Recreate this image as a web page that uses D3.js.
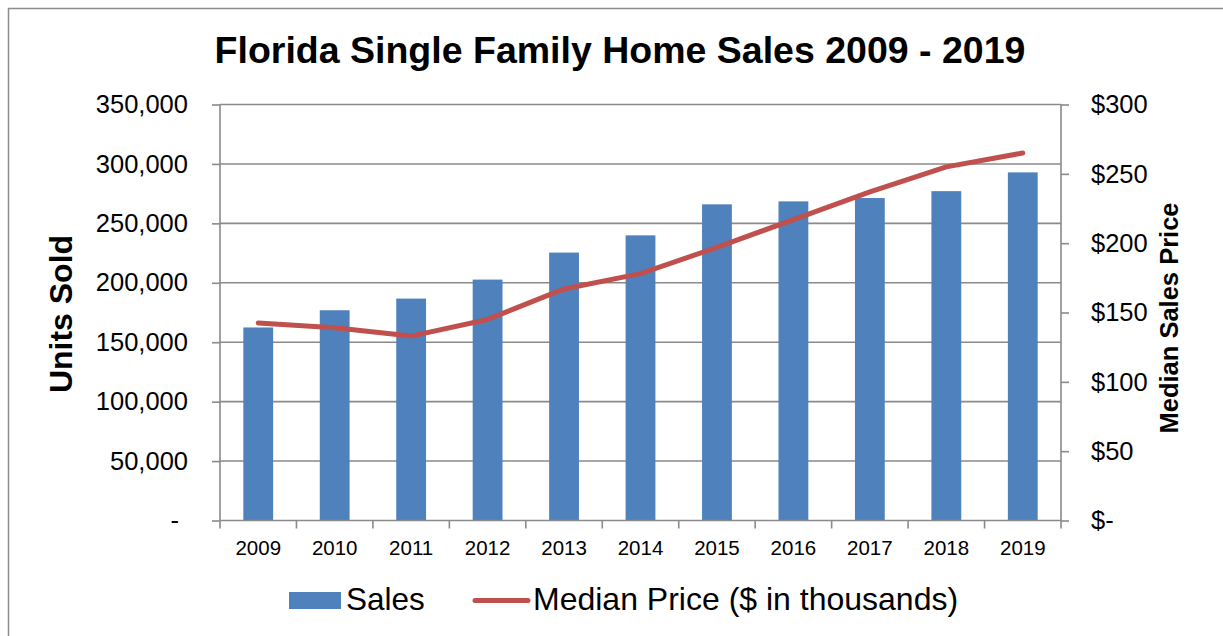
<!DOCTYPE html>
<html lang="en">
<meta charset="utf-8">
<title>Florida Single Family Home Sales</title>
<script src="https://d3js.org/d3.v7.min.js"></script>
<style>
  body { margin: 0; background: #fff; }
  svg { font-family: "Liberation Sans", Arial, sans-serif; }
</style>
<svg width="1223" height="636"></svg>
<script>
// data
var years = ["2009", "2010", "2011", "2012", "2013", "2014", "2015", "2016", "2017", "2018", "2019"];
var sales = [162400, 176900, 186700, 202700, 225400, 239900, 266000, 268500, 271300, 277100, 292900];
var medianPrice = [142.5, 139, 133, 145, 167, 178, 197, 217, 237, 255, 265];
var leftTicks = [0, 50000, 100000, 150000, 200000, 250000, 300000, 350000];
var rightTicks = [0, 50, 100, 150, 200, 250, 300];

var svg = d3.select("svg");
var margin = {top: 104.5, left: 220, right: 162, bottom: 115.5};
var width = 1223 - margin.left - margin.right;
var height = 636 - margin.top - margin.bottom;

// frame
svg.append("rect")
  .attr("x", 8.5).attr("y", 8.5)
  .attr("width", 1400).attr("height", 800)
  .attr("fill", "none").attr("stroke", "#8c8c8c").attr("stroke-width", 1.5);

var g = svg.append("g").attr("transform", "translate(" + margin.left + "," + margin.top + ")");

var x = d3.scaleBand().domain(years).range([0, width]).paddingInner(0.61).paddingOuter(0.305);
var xb = d3.scaleBand().domain(years).range([0, width]);
var y = d3.scaleLinear().domain([0, 350000]).range([height, 0]);
var y2 = d3.scaleLinear().domain([0, 300]).range([height, 0]);

// gridlines
g.append("g").selectAll("line")
  .data(leftTicks.slice(1))
  .enter().append("line")
    .attr("x1", 0).attr("x2", width)
    .attr("y1", function(d) { return y(d); })
    .attr("y2", function(d) { return y(d); })
    .attr("stroke", "#8a8a8a").attr("stroke-width", 1.6);

// bars
g.append("g").selectAll("rect")
  .data(years)
  .enter().append("rect")
    .attr("x", function(d) { return x(d); })
    .attr("y", function(d, i) { return y(sales[i]); })
    .attr("width", x.bandwidth())
    .attr("height", function(d, i) { return height - y(sales[i]); })
    .attr("fill", "#4f81bd");

// left axis
var leftAxis = g.append("g")
  .call(d3.axisLeft(y).tickValues(leftTicks).tickSize(8).tickPadding(24)
    .tickFormat(function(d) { return d === 0 ? "-" : d3.format(",")(d); }));
leftAxis.selectAll("path, line").attr("stroke", "#8a8a8a").attr("stroke-width", 1.6);
leftAxis.select(".domain").attr("d", "M0," + height + "V0");
leftAxis.selectAll("text").attr("font-size", 25.5).attr("fill", "#000")
  .attr("font-family", "Liberation Sans, Arial, sans-serif")
  .attr("dx", function(d) { return d === 0 ? -9 : 0; });

// right axis
var rightAxis = g.append("g")
  .attr("transform", "translate(" + width + ",0)")
  .call(d3.axisRight(y2).tickValues(rightTicks).tickSize(8).tickPadding(22)
    .tickFormat(function(d) { return d === 0 ? "$-" : "$" + d; }));
rightAxis.selectAll("path, line").attr("stroke", "#8a8a8a").attr("stroke-width", 1.6);
rightAxis.select(".domain").attr("d", "M0," + height + "V0");
rightAxis.selectAll("text").attr("font-size", 25.5).attr("fill", "#000")
  .attr("font-family", "Liberation Sans, Arial, sans-serif");

// bottom axis
var bottomAxis = g.append("g")
  .attr("transform", "translate(0," + height + ")")
  .call(d3.axisBottom(xb).tickSize(0).tickPadding(20));
bottomAxis.select(".domain").attr("stroke", "#8a8a8a").attr("stroke-width", 1.6)
  .attr("d", "M0,0H" + width);
bottomAxis.selectAll("text").attr("font-size", 20.5).attr("fill", "#000")
  .attr("font-family", "Liberation Sans, Arial, sans-serif");
bottomAxis.append("g").selectAll("line")
  .data(d3.range(years.length + 1))
  .enter().append("line")
    .attr("x1", function(i) { return i * xb.step(); })
    .attr("x2", function(i) { return i * xb.step(); })
    .attr("y1", 0).attr("y2", 8)
    .attr("stroke", "#8a8a8a").attr("stroke-width", 1.6);

// median price line
var line = d3.line()
  .x(function(d, i) { return xb(years[i]) + xb.bandwidth() / 2; })
  .y(function(d) { return y2(d); });
g.append("path")
  .datum(medianPrice)
  .attr("d", line)
  .attr("fill", "none")
  .attr("stroke", "#c0504d")
  .attr("stroke-width", 5)
  .attr("stroke-linecap", "round")
  .attr("stroke-linejoin", "round");

// title
svg.append("text")
  .attr("x", 620).attr("y", 63)
  .attr("text-anchor", "middle")
  .attr("font-size", 37.5).attr("font-weight", "bold")
  .text("Florida Single Family Home Sales 2009 - 2019");

// axis titles
svg.append("text")
  .attr("transform", "translate(72,314) rotate(-90)")
  .attr("text-anchor", "middle")
  .attr("font-size", 32).attr("font-weight", "bold")
  .text("Units Sold");

svg.append("text")
  .attr("transform", "translate(1178,318) rotate(-90)")
  .attr("text-anchor", "middle")
  .attr("font-size", 25.5).attr("font-weight", "bold")
  .text("Median Sales Price");

// legend
var legend = svg.append("g");
legend.append("rect")
  .attr("x", 289).attr("y", 592)
  .attr("width", 52).attr("height", 17)
  .attr("fill", "#4f81bd");
legend.append("text")
  .attr("x", 346).attr("y", 610)
  .attr("font-size", 31.5)
  .text("Sales");
legend.append("line")
  .attr("x1", 475).attr("x2", 528)
  .attr("y1", 600.5).attr("y2", 600.5)
  .attr("stroke", "#c0504d").attr("stroke-width", 5)
  .attr("stroke-linecap", "round");
legend.append("text")
  .attr("x", 533).attr("y", 610)
  .attr("font-size", 32)
  .text("Median Price ($ in thousands)");
</script>
</html>
